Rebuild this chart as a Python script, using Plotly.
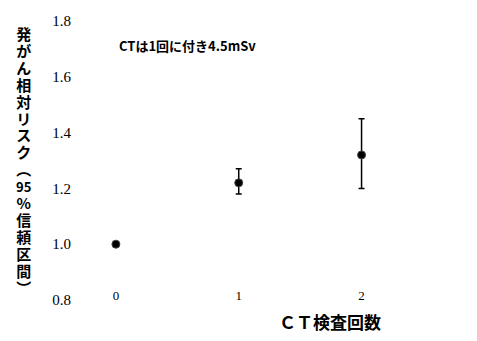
import plotly.graph_objects as go

ct_counts = [0, 1, 2]
relative_risk = [1.0, 1.22, 1.32]
ci_upper = [1.0, 1.27, 1.45]
ci_lower = [1.0, 1.18, 1.20]
x_ticks = [0, 1, 2, 3]
y_ticks = [0.8, 1.0, 1.2, 1.4, 1.6, 1.8]
y_tick_text = ["0.8", "1.0", "1.2", "1.4", "1.6", "1.8"]
y_title_chars = ["発", "が", "ん", "相", "対", "リ", "ス", "ク", "︵", "95", "%", "信", "頼", "区", "間", "︶"]
note_text = "CTは1回に付き4.5mSv"
x_title = "ＣＴ検査回数"

# layout helpers (pixel positions of the plot area)
L, R, T, B = 95, 477, 13, 292
W, H = R - L, B - T
def px(x):
    return (x - L) / W
def py(y):
    return (B - y) / H

err_plus = [u - v for u, v in zip(ci_upper, relative_risk)]
err_minus = [v - l for v, l in zip(relative_risk, ci_lower)]

fig = go.Figure()
fig.add_trace(go.Scatter(
    x=ct_counts, y=relative_risk, mode="markers",
    marker=dict(symbol="circle", size=8, color="black",
                line=dict(color="#444", width=1)),
    error_y=dict(type="data", symmetric=False, array=err_plus, arrayminus=err_minus,
                 color="black", thickness=1.5, width=3),
    showlegend=False,
))

def glyph(ch):
    size = 15 if len(ch) == 1 else 13
    return '<span style="font-size:%dpx">%s</span>' % (size, ch)

y_title = "<b>" + "<br>".join(glyph(c) for c in y_title_chars) + "</b>"

annotations = [
    dict(text="<b>" + note_text + "</b>", xref="paper", yref="paper",
         x=px(110), y=py(37), xanchor="left", yanchor="middle", borderpad=0,
         showarrow=False, font=dict(family="Noto Sans CJK JP", size=13, color="black")),
    dict(text="<b>" + x_title + "</b>", xref="paper", yref="paper",
         x=px(322), y=py(313), xanchor="center", yanchor="middle",
         showarrow=False, font=dict(family="Noto Sans CJK JP", size=17, color="black")),
    dict(text=y_title, xref="paper", yref="paper",
         x=px(15), y=py(152), xanchor="center", yanchor="middle", showarrow=False,
         align="center", borderpad=0,
         font=dict(family="Noto Sans CJK JP", size=13, color="black")),
]

fig.update_layout(
    width=477, height=341,
    margin=dict(l=L, r=477 - R, t=T, b=341 - B),
    paper_bgcolor="white", plot_bgcolor="white",
    font=dict(family="Liberation Serif", color="black", size=13),
    xaxis=dict(range=[-0.105, 3.005], tickvals=x_ticks, showgrid=False, zeroline=False,
               showline=False, ticks="", ticklabelstandoff=-14,
               tickfont=dict(family="Liberation Serif", size=13, color="black")),
    yaxis=dict(range=[0.8, 1.8], tickvals=y_ticks, ticktext=y_tick_text, showgrid=False,
               zeroline=False, showline=False, ticks="", ticklabelstandoff=31,
               tickfont=dict(family="Liberation Serif", size=15, color="black")),
    annotations=annotations,
)

fig.write_html("out.html")
